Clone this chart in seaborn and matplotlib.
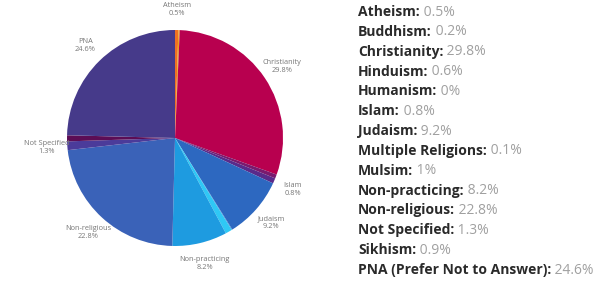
import numpy as np
import matplotlib
matplotlib.use("Agg")
import matplotlib.pyplot as plt
import seaborn as sns

religions = ["Atheism", "Buddhism", "Christianity", "Hinduism", "Humanism", "Islam",
             "Judaism", "Multiple Religions", "Mulsim", "Non-practicing", "Non-religious",
             "Not Specified", "Sikhism", "PNA (Prefer Not to Answer)"]
percent = [0.5, 0.2, 29.8, 0.6, 0.0, 0.8, 9.2, 0.1, 1.0, 8.2, 22.8, 1.3, 0.9, 24.6]
value_text = ["0.5%", "0.2%", "29.8%", "0.6%", "0%", "0.8%", "9.2%", "0.1%", "1%",
              "8.2%", "22.8%", "1.3%", "0.9%", "24.6%"]
pie_labels = ["Atheism\n0.5%", "", "Christianity\n29.8%", "", "", "Islam\n0.8%",
              "Judaism\n9.2%", "", "", "Non-practicing\n8.2%", "Non-religious\n22.8%",
              "Not Specified\n1.3%", "", "PNA\n24.6%"]
colors = ["#f07020", "#e8a020", "#b8004f", "#7a1a6e", "#6a2a80", "#5a2a8a",
          "#2d68c0", "#3a7ad0", "#2fc8f5", "#1e9be0", "#3a62b8",
          "#4b3b9a", "#5c0d55", "#463a8a"]

sns.set_theme(style="white")
plt.rcParams['font.family'] = ['Open Sans', 'DejaVu Sans']

fig = plt.figure(figsize=(6, 2.84), dpi=100)
ax = fig.add_axes([0.1117, 0.1338, 0.36, 0.7606])

wedges, texts = ax.pie(
    percent,
    labels=pie_labels,
    colors=sns.color_palette(colors),
    startangle=90,
    counterclock=False,
    labeldistance=1.19,
    wedgeprops=dict(linewidth=0),
    textprops=dict(fontsize=5.3, color="#777777"),
)
for t in texts:
    t.set_ha("center")
    t.set_va("center")
    t.set_multialignment("center")
ax.set_xlim(-1, 1)
ax.set_ylim(-1, 1)
ax.set_aspect("equal")

# right-hand list
lax = fig.add_axes([0, 0, 1, 1])
lax.set_xlim(0, 1)
lax.set_ylim(0, 1)
lax.axis("off")

ys = np.linspace(1 - 12 / 284, 1 - 270 / 284, len(religions))
for name, val, y in zip(religions, value_text, ys):
    t = lax.text(358 / 600, y, name + ":", fontsize=10, fontweight="bold",
                 color="#2a2a2a", va="center", ha="left")
    lax.annotate(" " + val, xy=(1, 0.5), xycoords=t, va="center", ha="left",
                 fontsize=10, color="#a0a0a0")

plt.savefig("out.png", dpi=100)
